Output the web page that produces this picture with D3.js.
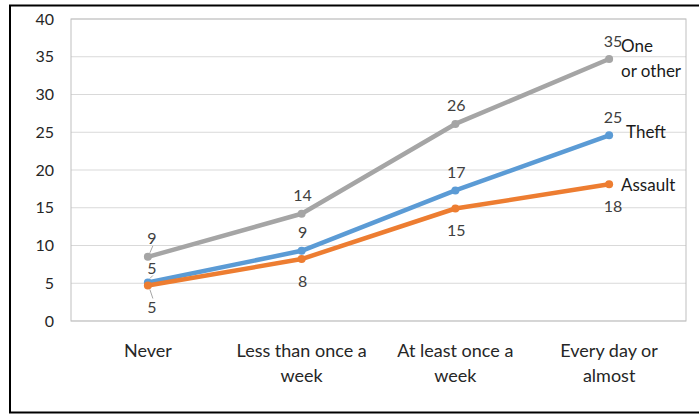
<!DOCTYPE html>
<html>
<head>
<meta charset="utf-8">
<script src="https://cdn.jsdelivr.net/npm/d3@7/dist/d3.min.js"></script>
<style>
  html, body { margin: 0; padding: 0; background: #fff; }
  svg { display: block; font-family: Lato, "Liberation Sans", sans-serif; }
</style>
</head>
<body>
<svg id="chart" width="699" height="414"></svg>
<script>
// Frequency categories along the x axis
const categories = [
  ["Never"],
  ["Less than once a", "week"],
  ["At least once a", "week"],
  ["Every day or", "almost"]
];

// Series values (percent)
const oneOrOther = [8.5, 14.2, 26.1, 34.7];
const theft      = [5.1,  9.3, 17.3, 24.6];
const assault    = [4.7,  8.2, 14.9, 18.1];

const yTicks = [0, 5, 10, 15, 20, 25, 30, 35, 40];

const series = [
  { name: ["One", "or other"], values: oneOrOther, color: "#A5A5A5", labelSide: -1 },
  { name: ["Theft"],           values: theft,      color: "#5B9BD5", labelSide: -1 },
  { name: ["Assault"],         values: assault,    color: "#ED7D31", labelSide: 1 }
];

const svg = d3.select("#chart");
const plot = { left: 71, right: 686, top: 19, bottom: 321 };

// Outer frame
svg.append("rect")
  .attr("x", 10).attr("y", 5.5)
  .attr("width", 700).attr("height", 407)
  .attr("fill", "none").attr("stroke", "#000").attr("stroke-width", 2);

const x = d3.scaleBand()
  .domain(d3.range(categories.length))
  .range([plot.left, plot.right]);

const y = d3.scaleLinear()
  .domain([0, 40])
  .range([plot.bottom, plot.top]);

// Horizontal gridlines
svg.append("g")
  .selectAll("line")
  .data(yTicks)
  .join("line")
  .attr("x1", plot.left).attr("x2", plot.right)
  .attr("y1", d => y(d)).attr("y2", d => y(d))
  .attr("stroke", "#D9D9D9").attr("stroke-width", 1);

// Plot area border
svg.append("rect")
  .attr("x", plot.left).attr("y", plot.top)
  .attr("width", plot.right - plot.left).attr("height", plot.bottom - plot.top)
  .attr("fill", "none").attr("stroke", "#BFBFBF").attr("stroke-width", 1);

// Y axis labels
const yAxis = d3.axisLeft(y).tickValues(yTicks).tickSize(0).tickPadding(0);
svg.append("g")
  .attr("transform", `translate(${54},0)`)
  .call(yAxis)
  .call(g => g.select(".domain").remove())
  .call(g => g.selectAll("text")
    .attr("font-size", 16)
    .attr("font-family", "Lato, sans-serif")
    .attr("fill", "#262626"));

// X category labels
const xLab = svg.append("g");
categories.forEach((lines, i) => {
  const t = xLab.append("text")
    .attr("x", x(i) + x.bandwidth() / 2)
    .attr("y", 357)
    .attr("text-anchor", "middle")
    .attr("font-size", 18)
    .attr("fill", "#262626");
  lines.forEach((ln, j) => {
    t.append("tspan")
      .attr("x", x(i) + x.bandwidth() / 2)
      .attr("dy", j === 0 ? 0 : 25)
      .text(ln);
  });
});

const cx = i => x(i) + x.bandwidth() / 2;
const line = d3.line().x((d, i) => cx(i)).y(d => y(d));
const fmt = d3.format(".0f");

// Lines, markers
series.forEach(s => {
  svg.append("path")
    .datum(s.values)
    .attr("d", line)
    .attr("fill", "none")
    .attr("stroke", s.color)
    .attr("stroke-width", 4.5)
    .attr("stroke-linejoin", "round");
  svg.append("g")
    .selectAll("circle")
    .data(s.values)
    .join("circle")
    .attr("cx", (d, i) => cx(i))
    .attr("cy", d => y(d))
    .attr("r", 4)
    .attr("fill", s.color);
});

// Data labels
series.forEach(s => {
  s.values.forEach((v, i) => {
    const lx = cx(i) + (i === 0 ? 4 : (i === 3 ? 4 : 1));
    let ly = y(v) + (s.labelSide < 0 ? -19 : 21);
    if (i === 0 && s.name[0] === "Theft") ly = y(v) - 15;
    svg.append("text")
      .attr("x", lx).attr("y", ly)
      .attr("text-anchor", "middle")
      .attr("dominant-baseline", "central")
      .attr("font-size", 16)
      .attr("fill", "#404040")
      .text(fmt(v));
    // short leader lines at the first category
    if (i === 0) {
      svg.append("line")
        .attr("x1", cx(i) + 5).attr("y1", ly + (s.labelSide < 0 ? 8 : -8))
        .attr("x2", cx(i) + 2).attr("y2", y(v) + (s.labelSide < 0 ? -4 : 4))
        .attr("stroke", "#A6A6A6").attr("stroke-width", 1);
    }
  });
});

// Series names at the line ends
const nameY = { "One": 45, "Theft": 131, "Assault": 184 };
const nameX = { "One": 621, "Theft": 626, "Assault": 621 };
series.forEach(s => {
  const t = svg.append("text")
    .attr("x", nameX[s.name[0]])
    .attr("y", nameY[s.name[0]])
    .attr("dominant-baseline", "central")
    .attr("font-size", 17)
    .attr("fill", "#1a1a1a");
  s.name.forEach((ln, j) => {
    t.append("tspan").attr("x", nameX[s.name[0]]).attr("dy", j === 0 ? 0 : 25).text(ln);
  });
});
</script>
</body>
</html>
